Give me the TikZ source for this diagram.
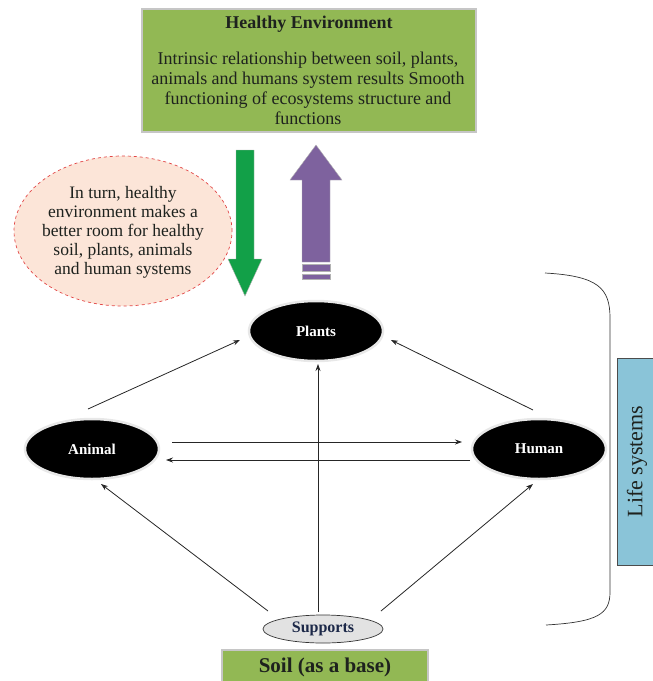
\documentclass[tikz,border=0pt]{standalone}
\usepackage{fontspec}
\setmainfont{Liberation Serif}
\usetikzlibrary{arrows.meta,calc,shapes.geometric}
\definecolor{envgreen}{RGB}{146,184,84}
\definecolor{arrgreen}{RGB}{18,160,72}
\definecolor{arrpurple}{RGB}{126,98,158}
\definecolor{peach}{RGB}{252,229,216}
\definecolor{dashred}{RGB}{226,70,70}
\definecolor{lifeblue}{RGB}{138,196,216}
\definecolor{suppgray}{RGB}{226,226,226}
\definecolor{darktext}{RGB}{30,34,30}
\definecolor{navytext}{RGB}{28,40,72}
\tikzset{
  lifenode/.style={ellipse, fill=black, draw=gray!18, line width=2.5pt,
    minimum width=134pt, minimum height=60pt, inner sep=0pt,
    text=white, font=\bfseries\fontsize{15}{17}\selectfont},
  link/.style={draw=black!85, line width=0.8pt, -{Stealth[length=7pt,width=5pt]}},
  greenbox/.style={fill=envgreen, draw=gray!45, line width=1.2pt, inner sep=0pt}
}
\begin{document}
\begin{tikzpicture}[x=1pt,y=-1pt]
\useasboundingbox (0,0) rectangle (653,681);
% Top box
\node[greenbox, minimum width=334pt, minimum height=123pt] (env) at (309,70.5) {};
\node[font=\bfseries\fontsize{18}{20}\selectfont, text=darktext] (envtitle) at (309,24) {Healthy Environment};
\node[font=\fontsize{18}{20}\selectfont, text=darktext, align=center] (envtext) at (308,88)
 {Intrinsic relationship between soil, plants,\\animals and humans system results Smooth\\functioning of ecosystems structure and\\functions};
% Green down arrow
\fill[arrgreen, draw=gray!60, line width=0.4pt] (236,150) -- (254,150) -- (254,259) -- (262,259) -- (245,296) -- (228,259) -- (236,259) -- cycle;
% Purple up arrow
\fill[arrpurple, draw=gray!60, line width=0.4pt] (302,262) -- (302,180) -- (290,180) -- (316,145) -- (342,180) -- (330,180) -- (330,262) -- cycle;
\fill[arrpurple, draw=gray!60, line width=0.4pt] (302,264) rectangle (330,271);
\fill[arrpurple, draw=gray!60, line width=0.4pt] (302,274) rectangle (330,279);
% Peach ellipse
\node[ellipse, fill=peach, draw=dashred, dashed, line width=0.7pt, minimum width=218pt, minimum height=150pt, inner sep=0pt] (turn) at (123,231) {};
\node[font=\fontsize{17.5}{19}\selectfont, text=darktext, align=center] (turntext) at (123,232)
 {In turn, healthy\\environment makes a\\better room for healthy\\soil, plants, animals\\and human systems};
% Life nodes
\node[lifenode] (plants) at (316,331) {Plants};
\node[lifenode] (animal) at (92,449) {Animal};
\node[lifenode] (human) at (539,449) {Human};
\node[ellipse, fill=suppgray, draw=black!80, line width=0.7pt, minimum width=120pt, minimum height=28pt, inner sep=0pt, text=navytext, font=\bfseries\fontsize{16}{18}\selectfont] (supports) at (323,629) {Supports};
% Soil box
\node[greenbox, minimum width=206pt, minimum height=34pt, font=\bfseries\fontsize{21}{23}\selectfont, text=darktext] (soil) at (325,667) {Soil (as a base)};
% Life systems box
\node[fill=lifeblue, draw=black!70, line width=0.8pt, minimum width=207pt, minimum height=40pt, inner sep=0pt, rotate=90, font=\fontsize{22}{25}\selectfont, text=darktext] (life) at (637,461.5) {Life systems};
% Brace
\draw[black!80, line width=0.7pt] (545,273) .. controls (598,276) and (610,288) .. (610,318) -- (610,592) .. controls (610,614) and (598,622) .. (546,625);
% Connectors
\draw[link] ([shift={(-4,-40)}]animal.center) -- ([shift={(-76,9)}]plants.center);
\draw[link] ([shift={(-6,-39)}]human.center) -- ([shift={(75,9)}]plants.center);
\draw[link] ([shift={(80,-7)}]animal.center) -- ([shift={(-77,-7)}]human.center);
\draw[link] ([shift={(-69,11)}]human.center) -- ([shift={(74,11)}]animal.center);
\draw[link] ([shift={(-5,-17)}]supports.center) -- ([shift={(2,33)}]plants.center);
\draw[link] ([shift={(-55,-18)}]supports.center) -- ([shift={(9,35)}]animal.center);
\draw[link] ([shift={(58,-18)}]supports.center) -- ([shift={(-6,35)}]human.center);
\end{tikzpicture}
\end{document}
